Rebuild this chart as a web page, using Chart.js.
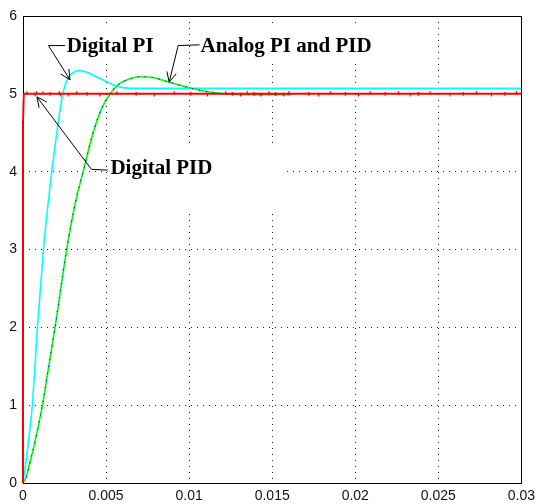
<!DOCTYPE html>
<html>
<head>
<meta charset="utf-8">
<script src="https://cdn.jsdelivr.net/npm/chart.js@4.4.0/dist/chart.umd.min.js"></script>
<style>
  html, body { margin: 0; padding: 0; background: #fff; }
  #wrap { width: 540px; height: 504px; }
</style>
</head>
<body>
<div id="wrap"><canvas id="chart" width="540" height="504"></canvas></div>
<script>
// axis ticks
const xTickLabels = ['0', '0.005', '0.01', '0.015', '0.02', '0.025', '0.03'];
const yTickLabels = ['0', '1', '2', '3', '4', '5', '6'];

// Digital PI (cyan)
const digitalPiX = [0, 0.0003, 0.00056, 0.00087, 0.00123, 0.00153, 0.00173, 0.00203, 0.00239, 0.0027, 0.003, 0.0034, 0.0038, 0.0042, 0.0046, 0.005, 0.0055, 0.006, 0.0068, 0.03];
const digitalPiY = [0, 0.48, 1, 2, 3, 3.63, 4, 4.49, 5, 5.2, 5.27, 5.3, 5.28, 5.24, 5.2, 5.16, 5.11, 5.08, 5.07, 5.07];

// Analog PI and PID (green, blue dots on top)
const analogX = [0, 0.0002, 0.0004, 0.00069, 0.00117, 0.00155, 0.00193, 0.00263, 0.00318, 0.00362, 0.00422, 0.00475, 0.00531, 0.00581, 0.0064, 0.007, 0.0078, 0.0088, 0.0098, 0.011, 0.0117, 0.013, 0.0161];
const analogY = [0, 0.08, 0.25, 0.5, 1, 1.5, 2, 3, 3.63, 4, 4.5, 4.82, 5.02, 5.13, 5.19, 5.22, 5.21, 5.15, 5.09, 5.03, 5.01, 4.99, 4.99];

// Digital PID (red) and its small noise spikes around 5
const digitalPidX = [0, 0, 0.00005, 0.03];
const digitalPidY = [0, 4.62, 5, 5];
const noiseX = [0.00024, 0.00073, 0.00081, 0.0012, 0.00163, 0.00219, 0.00227, 0.00272, 0.00323, 0.00386, 0.00462, 0.00565, 0.00681, 0.0079, 0.0091, 0.0101, 0.0111, 0.0122, 0.0126, 0.0131, 0.0135, 0.0139, 0.0143, 0.0148, 0.0152, 0.0157, 0.016, 0.0172, 0.0178, 0.0185, 0.0194, 0.0202, 0.0209, 0.0218, 0.0226, 0.0233, 0.0238, 0.0245, 0.0257, 0.0265, 0.0273, 0.0282, 0.029, 0.0297];
const noiseY = [5.01, 4.99, 5.01, 5.01, 5.0, 5.01, 4.99, 4.99, 5.01, 5.0, 4.99, 5.01, 5.0, 4.99, 5.01, 5.0, 4.99, 5.01, 5.0, 4.99, 5.01, 5.0, 4.99, 5.01, 5.0, 4.99, 5.01, 5.0, 4.99, 5.01, 5.0, 4.99, 5.01, 5.0, 5.01, 4.99, 5.0, 5.01, 4.99, 5.0, 5.01, 4.99, 5.0, 5.01];

function toPoints(xs, ys) {
    return xs.map((x, i) => ({ x: x, y: ys[i] }));
}

// text labels with leader arrows (anchor/path in data units, box in px around the text)
const notes = [
    { text: 'Digital PI', at: [0.00263, 5.537], path: [[0.00253, 5.62], [0.00153, 5.62], [0.00283, 5.18]], box: [-5, -24, 101, 36] },
    { text: 'Analog PI and PID', at: [0.01069, 5.537], path: [[0.01063, 5.63], [0.00934, 5.62], [0.0088, 5.15]], box: [-5, -24, 183, 35] },
    { text: 'Digital PID', at: [0.00526, 3.97], path: [[0.0051, 4.02], [0.00412, 4.03], [0.00084, 4.96]], box: [-3, -28, 177, 63] }
];

const notesPlugin = {
    id: 'notes',
    beforeDatasetsDraw(chart) {
        const { ctx, chartArea, scales: { x, y } } = chart;
        ctx.save();
        ctx.fillStyle = '#fff';
        notes.forEach(n => {
            const px = x.getPixelForValue(n.at[0]);
            const py = y.getPixelForValue(n.at[1]);
            ctx.fillRect(px + n.box[0], py + n.box[1], n.box[2], n.box[3]);
        });
        // plot frame
        ctx.strokeStyle = '#000';
        ctx.lineWidth = 1;
        ctx.strokeRect(Math.round(chartArea.left) + 0.5, Math.round(chartArea.top) + 0.5,
            Math.round(chartArea.right - chartArea.left), Math.round(chartArea.bottom - chartArea.top));
        ctx.restore();
    },
    afterDatasetsDraw(chart) {
        const { ctx, scales: { x, y } } = chart;
        ctx.save();
        ctx.strokeStyle = '#000';
        ctx.lineWidth = 1;
        notes.forEach(n => {
            const pts = n.path.map(p => [x.getPixelForValue(p[0]), y.getPixelForValue(p[1])]);
            ctx.beginPath();
            ctx.moveTo(pts[0][0], pts[0][1]);
            for (let i = 1; i < pts.length; i++) ctx.lineTo(pts[i][0], pts[i][1]);
            ctx.stroke();
            // open arrow head
            const tip = pts[pts.length - 1], prev = pts[pts.length - 2];
            const ang = Math.atan2(tip[1] - prev[1], tip[0] - prev[0]);
            ctx.beginPath();
            [-0.45, 0.45].forEach(d => {
                ctx.moveTo(tip[0], tip[1]);
                ctx.lineTo(tip[0] - 11 * Math.cos(ang + d), tip[1] - 11 * Math.sin(ang + d));
            });
            ctx.stroke();
            ctx.fillStyle = '#000';
            ctx.font = 'bold 21px "Liberation Serif", "DejaVu Serif", serif';
            ctx.textBaseline = 'alphabetic';
            ctx.fillText(n.text, x.getPixelForValue(n.at[0]), y.getPixelForValue(n.at[1]));
        });
        ctx.restore();
    }
};

const tickFont = { family: '"Liberation Sans", Arial, sans-serif', size: 14 };

new Chart(document.getElementById('chart'), {
    type: 'line',
    data: {
        datasets: [
            {
                data: toPoints(noiseX, noiseY),
                showLine: false,
                pointStyle: 'line',
                rotation: 90,
                radius: 1.8,
                pointBorderWidth: 1.2,
                borderColor: '#ff0000',
                order: 0
            },
            {
                data: toPoints(digitalPidX, digitalPidY),
                borderColor: '#ff0000',
                borderWidth: 2,
                pointRadius: 0,
                clip: 4,
                order: 1
            },
            {
                data: toPoints(analogX, analogY),
                borderColor: '#0000ff',
                borderWidth: 1.2,
                borderDash: [1, 6],
                pointRadius: 0,
                order: 2
            },
            {
                data: toPoints(analogX, analogY),
                borderColor: '#00ff00',
                borderWidth: 1.6,
                pointRadius: 0,
                order: 3
            },
            {
                data: toPoints(digitalPiX, digitalPiY),
                borderColor: '#00ffff',
                borderWidth: 1.6,
                pointRadius: 0,
                order: 4
            }
        ]
    },
    options: {
        responsive: false,
        animation: false,
        devicePixelRatio: 1,
        layout: { padding: { top: 16, right: 15, left: 0, bottom: 0 } },
        plugins: { legend: { display: false }, tooltip: { enabled: false } },
        elements: { line: { tension: 0.35, cubicInterpolationMode: 'monotone' } },
        scales: {
            x: {
                type: 'linear',
                min: 0,
                max: 0.03,
                afterFit: s => { s.height = 21; },
                grid: { color: '#222', lineWidth: 1, drawTicks: false },
                border: { display: false, dash: [1, 5] },
                ticks: {
                    stepSize: 0.005,
                    autoSkip: false,
                    maxRotation: 0,
                    padding: 5,
                    color: '#111',
                    font: tickFont,
                    callback: (v, i) => xTickLabels[i]
                }
            },
            y: {
                min: 0,
                max: 6,
                afterFit: s => { s.width = 23; },
                grid: { color: '#222', lineWidth: 1, drawTicks: false },
                border: { display: false, dash: [1, 5] },
                ticks: {
                    stepSize: 1,
                    padding: 6,
                    color: '#111',
                    font: tickFont,
                    callback: (v, i) => yTickLabels[i]
                }
            }
        }
    },
    plugins: [notesPlugin]
});
</script>
</body>
</html>
